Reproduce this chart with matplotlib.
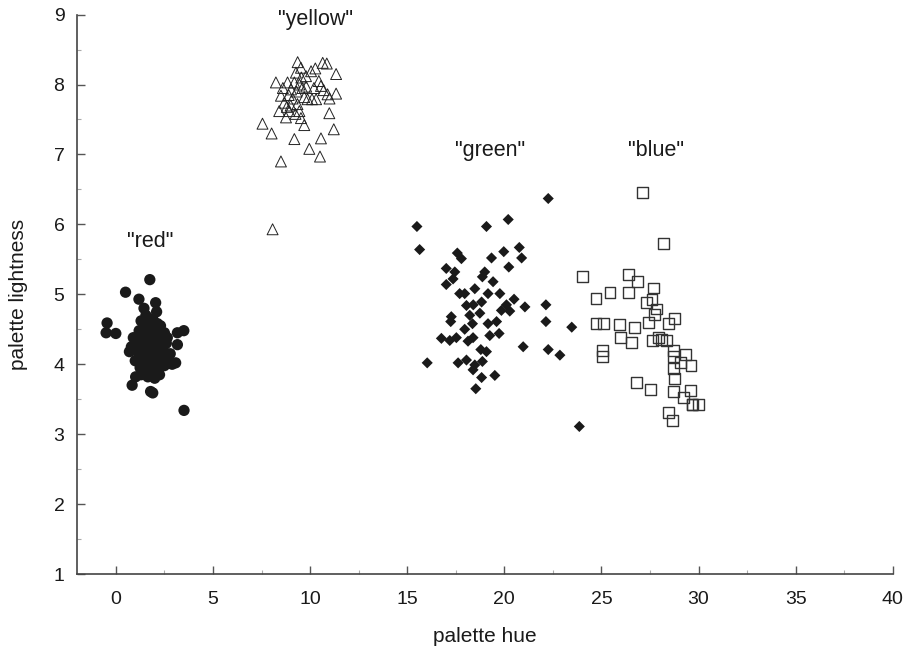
import matplotlib.pyplot as plt
from matplotlib.ticker import MultipleLocator

plt.rcParams['font.family'] = ['Liberation Sans', 'DejaVu Sans']

# --- palette data (hue, lightness) ---
red_x = [1.75, 0.5, 1.19, 2.05, -0.45, -0.5, 0.0, 3.5, 3.17, 3.17, 3.08, 1.02, 0.84, 1.79, 1.9, 3.51,
         1.45, 1.55, 2.1, 1.3, 1.9, 2.3, 1.6, 1.2, 1.5, 1.8, 2.1, 2.5, 0.9, 1.3, 1.7, 2.0, 2.4,
         1.1, 1.5, 1.9, 2.2, 2.6, 0.7, 1.0, 1.4, 1.75, 2.05, 2.45, 2.8, 1.2, 1.6, 1.95, 2.3, 2.7,
         1.35, 1.7, 2.1, 2.5, 2.9, 1.5, 1.85, 2.2, 1.3, 1.65, 2.0, 1.55, 1.85, 1.45, 2.15, 1.65,
         1.0, 2.35, 2.65, 0.8, 1.25, 2.25]
red_y = [5.21, 5.03, 4.93, 4.88, 4.59, 4.45, 4.44, 4.48, 4.45, 4.28, 4.02, 3.82, 3.70, 3.61, 3.59, 3.34,
         4.80, 4.70, 4.75, 4.62, 4.65, 4.55, 4.58, 4.48, 4.50, 4.50, 4.48, 4.45, 4.38, 4.40, 4.42, 4.40, 4.38,
         4.30, 4.32, 4.30, 4.28, 4.30, 4.18, 4.20, 4.22, 4.20, 4.18, 4.20, 4.15, 4.10, 4.12, 4.10, 4.08, 4.05,
         4.00, 4.02, 4.00, 3.98, 4.00, 3.92, 3.90, 3.92, 3.85, 3.82, 3.80, 4.60, 4.35, 4.15, 4.58, 4.28,
         4.05, 4.12, 4.38, 4.25, 3.95, 3.85]

yellow_x = [9.36, 10.65, 10.86, 11.34, 10.27, 10.05, 8.24, 7.55, 8.02, 10.99, 11.22, 9.19, 10.56, 9.96,
            10.51, 8.5, 8.07, 11.34, 9.70, 9.53,
            8.84, 9.27, 9.53, 9.79, 10.56, 10.9, 10.31, 10.1, 9.87, 8.5, 8.67, 8.41, 8.93, 9.45, 8.76,
            9.02, 9.3, 9.19, 9.45, 9.6, 9.1, 9.35, 8.9, 9.7, 10.7, 10.45, 9.55, 9.0, 8.6, 10.2, 9.8,
            9.25, 8.8, 11.0]
yellow_y = [8.32, 8.31, 8.30, 8.15, 8.23, 8.19, 8.03, 7.44, 7.30, 7.59, 7.36, 7.22, 7.23, 7.08,
            6.97, 6.90, 5.93, 7.87, 7.42, 7.52,
            8.03, 8.17, 8.24, 8.12, 7.98, 7.86, 7.79, 7.79, 7.79, 7.84, 7.74, 7.62, 7.62, 7.62, 7.53,
            7.93, 7.90, 8.03, 8.00, 7.95, 7.80, 7.72, 7.85, 7.82, 7.92, 8.05, 8.10, 7.70, 7.95, 7.95, 7.97,
            7.58, 7.68, 7.80]

green_x = [22.26, 20.2, 15.5, 19.08, 15.64, 20.77, 19.97, 20.89, 19.34, 17.58, 17.79, 20.23, 17.01,
           17.45, 17.36, 18.99, 18.87, 19.42, 17.01, 18.48, 17.70, 17.96, 19.16, 19.77, 20.5, 18.83,
           18.05, 18.4, 20.11, 21.06, 22.14, 19.85, 20.28, 18.74, 18.22, 17.27, 17.24, 22.14, 18.36,
           19.16, 19.6, 23.47, 17.96, 19.25, 19.73, 16.76, 17.19, 17.53, 18.13, 18.39, 20.97, 22.26,
           22.86, 18.79, 19.08, 16.03, 17.62, 18.05, 18.48, 18.87, 18.39, 18.83, 19.51, 18.53, 23.86]
green_y = [6.37, 6.07, 5.97, 5.97, 5.64, 5.67, 5.61, 5.52, 5.52, 5.59, 5.51, 5.39, 5.37,
           5.32, 5.22, 5.32, 5.25, 5.18, 5.14, 5.08, 5.01, 5.01, 5.01, 5.01, 4.93, 4.89,
           4.84, 4.85, 4.85, 4.82, 4.85, 4.77, 4.76, 4.73, 4.70, 4.68, 4.61, 4.61, 4.58,
           4.58, 4.61, 4.53, 4.50, 4.41, 4.44, 4.37, 4.34, 4.38, 4.33, 4.38, 4.25, 4.21,
           4.13, 4.21, 4.18, 4.02, 4.02, 4.06, 3.99, 4.04, 3.92, 3.81, 3.84, 3.65, 3.11]

blue_x = [27.13, 28.2, 24.03, 26.39, 26.86, 27.68, 25.44, 26.39, 24.72, 27.3, 27.6, 27.85, 27.73,
          27.42, 28.77, 28.46, 24.72, 25.1, 25.93, 26.7, 25.96, 26.53, 27.65, 27.94, 28.11, 28.34,
          25.07, 25.07, 28.71, 28.71, 29.32, 29.06, 29.61, 28.71, 28.77, 26.82, 27.51, 28.71, 29.57,
          29.23, 29.66, 30.0, 29.7, 28.46, 28.68]
blue_y = [6.45, 5.73, 5.26, 5.29, 5.18, 5.09, 5.02, 5.02, 4.94, 4.88, 4.93, 4.79, 4.71,
          4.60, 4.65, 4.58, 4.58, 4.58, 4.57, 4.53, 4.38, 4.31, 4.34, 4.38, 4.35, 4.34,
          4.20, 4.11, 4.20, 4.11, 4.14, 4.03, 3.98, 3.94, 3.80, 3.74, 3.64, 3.61, 3.63,
          3.53, 3.43, 3.42, 3.42, 3.31, 3.20]

labels = ['"red"', '"yellow"', '"green"', '"blue"']
label_x = [1.75, 10.3, 19.25, 27.8]
label_y = [5.75, 8.93, 7.05, 7.05]

fig = plt.figure(figsize=(9.12, 6.52), dpi=100)
ax = fig.add_axes([0.0844, 0.1196, 0.8946, 0.858])

ax.scatter(red_x, red_y, marker='o', s=66, color='#1a1a1a', edgecolors='none', zorder=3)
ax.scatter(yellow_x, yellow_y, marker='^', s=62, facecolors='none', edgecolors='#222222',
           linewidths=0.7, zorder=3)
ax.scatter(green_x, green_y, marker='D', s=32, color='#1a1a1a', edgecolors='none', zorder=3)
ax.scatter(blue_x, blue_y, marker='s', s=62, facecolors='none', edgecolors='#333333',
           linewidths=1.0, zorder=3)

for t, x, y in zip(labels, label_x, label_y):
    ax.text(x, y, t, ha='center', va='center', fontsize=15.5, color='#1a1a1a')

ax.set_xlim(-2, 40)
ax.set_ylim(1, 9)
ax.xaxis.set_major_locator(MultipleLocator(5))
ax.xaxis.set_minor_locator(MultipleLocator(2.5))
ax.yaxis.set_major_locator(MultipleLocator(1))
ax.yaxis.set_minor_locator(MultipleLocator(0.5))

for side in ['top', 'right']:
    ax.spines[side].set_visible(False)
for side in ['left', 'bottom']:
    ax.spines[side].set_color('#444444')
    ax.spines[side].set_linewidth(1.2)

ax.tick_params(which='major', direction='in', length=6, width=1, color='#555555',
               labelsize=14, labelcolor='#1a1a1a')
ax.tick_params(which='minor', direction='in', length=3, width=0.8, color='#aaaaaa')
ax.tick_params(axis='x', which='major', pad=12)
ax.tick_params(axis='y', which='major', pad=9)

ax.set_xlabel('palette hue', fontsize=15, color='#1a1a1a', labelpad=14)
ax.set_ylabel('palette lightness', fontsize=15, color='#1a1a1a', labelpad=18)

fig.savefig('out.png', dpi=100)
